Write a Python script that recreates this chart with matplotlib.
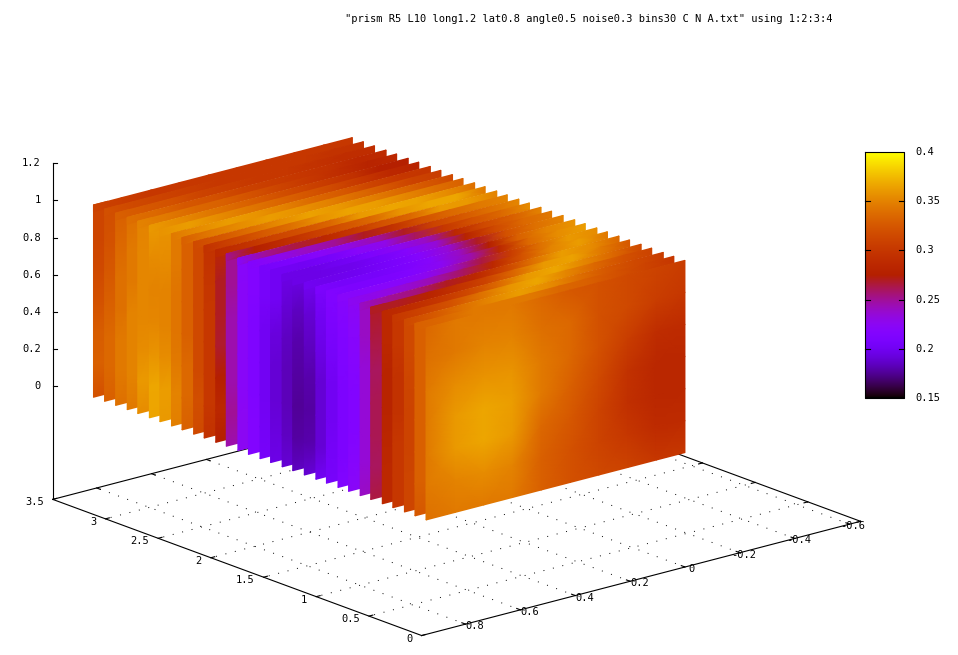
import numpy as np
import matplotlib
matplotlib.use('Agg')
import matplotlib.pyplot as plt
from matplotlib.colors import ListedColormap

plt.rcParams['font.family'] = 'DejaVu Sans Mono'
plt.rcParams['font.size'] = 7.45

title = '"prism R5 L10 long1.2 lat0.8 angle0.5 noise0.3 bins30 C N A.txt" using 1:2:3:4'

x_ticks = [0.8, 0.6, 0.4, 0.2, 0, -0.2, -0.4, -0.6]
x_labels = ['0.8', '0.6', '0.4', '0.2', '0', '-0.2', '-0.4', '-0.6']
y_ticks = [0, 0.5, 1, 1.5, 2, 2.5, 3, 3.5]
y_labels = ['0', '0.5', '1', '1.5', '2', '2.5', '3', '3.5']
z_ticks = [0, 0.2, 0.4, 0.6, 0.8, 1, 1.2]
z_labels = ['0', '0.2', '0.4', '0.6', '0.8', '1', '1.2']
cb_ticks = [0.15, 0.2, 0.25, 0.3, 0.35, 0.4]
cb_labels = ['0.15', '0.2', '0.25', '0.3', '0.35', '0.4']

# slices, back to front
y_slices = [3.27, 3.165, 3.06, 2.95, 2.85, 2.74, 2.64, 2.53, 2.43, 2.32,
            2.22, 2.11, 2.01, 1.90, 1.80, 1.69, 1.59, 1.48, 1.38, 1.27,
            1.16, 1.06, 0.95, 0.85, 0.74, 0.64, 0.53, 0.43, 0.32, 0.22]
y_front = 0.115
x_cols = [0.9, 0.795, 0.69, 0.585, 0.48, 0.375, 0.27, 0.165, 0.06, -0.044]
z_rows = [1.0, 0.828, 0.655, 0.483, 0.31, 0.138, -0.034]

# value along z (top to bottom) on the left edge of each slice
left_edge = [
    [.312, .312, .315, .32, .328, .33, .32],
    [.318, .32, .325, .33, .335, .335, .33],
    [.33, .335, .34, .34, .345, .345, .34],
    [.34, .345, .345, .35, .35, .35, .345],
    [.35, .352, .352, .352, .355, .36, .355],
    [.36, .355, .35, .352, .358, .366, .365],
    [.358, .355, .35, .35, .355, .362, .36],
    [.345, .345, .342, .342, .345, .35, .348],
    [.33, .33, .33, .33, .335, .335, .33],
    [.315, .315, .315, .315, .315, .318, .315],
    [.295, .298, .3, .3, .3, .3, .295],
    [.285, .27, .27, .268, .275, .285, .275],
    [.25, .25, .245, .245, .245, .25, .245],
    [.22, .222, .222, .222, .222, .225, .225],
    [.215, .215, .212, .212, .212, .215, .215],
    [.205, .205, .2, .2, .2, .202, .205],
    [.2, .2, .192, .19, .19, .192, .195],
    [.195, .19, .185, .183, .183, .185, .19],
    [.195, .185, .18, .178, .176, .178, .185],
    [.2, .19, .185, .18, .178, .18, .19],
    [.21, .2, .195, .19, .19, .19, .2],
    [.215, .21, .205, .2, .2, .203, .205],
    [.22, .215, .212, .21, .21, .21, .215],
    [.225, .22, .218, .215, .215, .218, .222],
    [.24, .24, .235, .235, .235, .235, .24],
    [.27, .265, .26, .262, .262, .26, .265],
    [.285, .285, .28, .28, .282, .285, .285],
    [.3, .3, .295, .295, .3, .3, .3],
    [.315, .315, .312, .31, .31, .312, .312],
    [.33, .33, .33, .33, .33, .33, .325],
]

# value along x on the top edge of each slice
top_edge = [
    [.31, .305, .30, .30, .30, .30, .30, .30, .30, .30],
    [.32, .315, .31, .305, .30, .30, .30, .30, .295, .295],
    [.33, .325, .32, .31, .305, .30, .30, .295, .29, .29],
    [.34, .335, .325, .32, .31, .305, .30, .295, .285, .288],
    [.35, .345, .335, .33, .32, .31, .30, .29, .28, .285],
    [.36, .355, .345, .335, .325, .315, .305, .295, .275, .275],
    [.358, .362, .355, .345, .335, .325, .315, .30, .285, .28],
    [.345, .355, .362, .358, .348, .335, .325, .31, .30, .298],
    [.33, .345, .355, .362, .358, .35, .338, .325, .31, .305],
    [.315, .325, .34, .355, .364, .36, .35, .338, .325, .315],
    [.295, .31, .325, .34, .358, .365, .362, .352, .34, .33],
    [.285, .295, .31, .32, .335, .36, .366, .364, .355, .34],
    [.25, .275, .29, .305, .32, .335, .358, .366, .366, .345],
    [.22, .25, .265, .285, .30, .32, .335, .36, .36, .35],
    [.215, .225, .24, .25, .27, .295, .32, .335, .345, .35],
    [.205, .21, .22, .23, .245, .27, .31, .325, .34, .352],
    [.2, .2, .205, .22, .23, .26, .30, .32, .335, .355],
    [.195, .195, .2, .21, .225, .24, .285, .315, .33, .35],
    [.195, .195, .197, .205, .218, .235, .28, .315, .335, .345],
    [.2, .197, .2, .207, .218, .235, .27, .32, .34, .35],
    [.21, .205, .205, .21, .22, .24, .275, .33, .35, .358],
    [.215, .21, .21, .215, .225, .245, .285, .335, .355, .362],
    [.22, .22, .22, .225, .24, .265, .305, .34, .36, .355],
    [.225, .23, .235, .245, .26, .285, .32, .35, .362, .345],
    [.24, .25, .255, .27, .285, .31, .34, .362, .355, .335],
    [.27, .27, .28, .295, .31, .335, .36, .364, .345, .325],
    [.285, .29, .30, .315, .335, .36, .366, .352, .335, .315],
    [.30, .31, .32, .34, .358, .366, .352, .335, .32, .31],
    [.315, .325, .34, .352, .362, .355, .34, .325, .315, .305],
    [.33, .335, .345, .345, .345, .335, .33, .32, .31, .30],
]

# front slice, rows top to bottom, columns left to right
front_face = [
    [.335, .345, .345, .345, .335, .325, .32, .315, .31, .305],
    [.34, .345, .35, .35, .34, .335, .32, .315, .305, .30],
    [.345, .355, .358, .358, .345, .335, .32, .305, .29, .288],
    [.345, .36, .366, .362, .345, .33, .315, .295, .283, .283],
    [.345, .36, .366, .36, .335, .325, .31, .293, .283, .283],
    [.345, .35, .355, .35, .33, .32, .31, .30, .288, .288],
    [.34, .345, .345, .345, .33, .32, .315, .31, .30, .30],
]

# pm3d default palette (rgbformulae 7,5,15)
t = np.linspace(0, 1, 256)
palette = ListedColormap(np.c_[np.sqrt(t), t ** 3, np.clip(np.sin(2 * np.pi * t), 0, 1)])
vmin, vmax = 0.15, 0.4


# view 3d -> image pixels
def proj(x, y, z):
    x, y, z = np.asarray(x, float), np.asarray(y, float), np.asarray(z, float)
    return 685 - 274.3 * x - 105.4 * y, 567 + 71.4 * x - 38.9 * y - 186 * (z + 0.608)


fig = plt.figure(figsize=(9.58, 6.55), dpi=100)
ax = fig.add_axes([0, 0, 1, 1])
ax.axis('off')

xlo, xhi, ylo, yhi, zlo, zhi = -0.64, 0.96, 0, 3.5, -0.608, 1.2
line_w = 0.8


def edge(x, y, z):
    px, py = proj(x, y, z)
    ax.plot(px, py, color='k', lw=line_w, zorder=1)


# floor grid
for v in x_ticks:
    px, py = proj([v, v], [ylo, yhi], [zlo, zlo])
    ax.plot(px, py, color='k', lw=0.7, ls=(0, (1, 9)), zorder=1)
for v in y_ticks[1:-1]:
    px, py = proj([xlo, xhi], [v, v], [zlo, zlo])
    ax.plot(px, py, color='k', lw=0.7, ls=(0, (1, 9)), zorder=1)

# floor border and z axis
edge([xhi, xhi], [ylo, yhi], [zlo, zlo])
edge([xhi, xlo], [ylo, ylo], [zlo, zlo])
edge([xhi, xlo], [yhi, yhi], [zlo, zlo])
edge([xlo, xlo], [ylo, yhi], [zlo, zlo])
edge([xhi, xhi], [yhi, yhi], [zlo, zhi])

# ticks and labels
for v, s in zip(x_ticks, x_labels):
    edge([v, v], [ylo, ylo + 0.035], [zlo, zlo])
    edge([v, v], [yhi, yhi - 0.035], [zlo, zlo])
    px, py = proj(v, ylo, zlo)
    off = -9 if s[0] == '-' else (3 if s == '0' else 0)
    ax.text(px + off, py + 2, s, ha='left', va='center')
for v, s in zip(y_ticks, y_labels):
    edge([xhi, xhi - 0.014], [v, v], [zlo, zlo])
    edge([xlo, xlo + 0.014], [v, v], [zlo, zlo])
    px, py = proj(xhi, v, zlo)
    ax.text(px - 9, py + 3, s, ha='right', va='center')
for v, s in zip(z_ticks, z_labels):
    px, py = proj(xhi, yhi, v)
    ax.plot([px, px + 4], [py, py], color='k', lw=line_w, zorder=1)
    ax.text(px - 12, py, s, ha='right', va='center')

# surface: every slice paints over the one behind it, only its left and top edges stay visible
strip_dx = 0.0525
band_dz = 0.036
order = 2
for i, y in enumerate(y_slices):
    gx = np.array([[x_cols[0], x_cols[0] - strip_dx]] * len(z_rows))
    gz = np.array([[v, v] for v in z_rows])
    px, py = proj(gx, y, gz)
    c = np.array([[v, v] for v in left_edge[i]])
    ax.pcolormesh(px, py, c, shading='gouraud', cmap=palette, vmin=vmin, vmax=vmax, zorder=order)
    gx = np.array([x_cols, x_cols])
    gz = np.array([[z_rows[0]] * len(x_cols), [z_rows[0] - band_dz] * len(x_cols)])
    px, py = proj(gx, y, gz)
    c = np.array([top_edge[i], top_edge[i]])
    ax.pcolormesh(px, py, c, shading='gouraud', cmap=palette, vmin=vmin, vmax=vmax, zorder=order)
    order += 1

gx, gz = np.meshgrid(x_cols, z_rows)
px, py = proj(gx, y_front, gz)
ax.pcolormesh(px, py, np.array(front_face), shading='gouraud', cmap=palette, vmin=vmin, vmax=vmax, zorder=order)

# colour box
cb_l, cb_r, cb_t, cb_b = 865, 904, 152, 398
ramp = np.linspace(vmax, vmin, 256).reshape(-1, 1)
ax.imshow(ramp, extent=(cb_l, cb_r, cb_b, cb_t), cmap=palette, vmin=vmin, vmax=vmax,
          aspect='auto', interpolation='bilinear', zorder=2)
ax.plot([cb_l, cb_r, cb_r, cb_l, cb_l], [cb_t, cb_t, cb_b, cb_b, cb_t], color='k', lw=line_w, zorder=3)
for v, s in zip(cb_ticks[1:-1], cb_labels[1:-1]):
    py = cb_b - (v - vmin) / (vmax - vmin) * (cb_b - cb_t)
    ax.plot([cb_l, cb_l + 5], [py, py], color='k', lw=line_w, zorder=3)
    ax.plot([cb_r - 5, cb_r], [py, py], color='k', lw=line_w, zorder=3)
for v, s in zip(cb_ticks, cb_labels):
    py = cb_b - (v - vmin) / (vmax - vmin) * (cb_b - cb_t)
    ax.text(915, py, s, ha='left', va='center')

ax.text(589, 19, title, ha='center', va='center')

ax.set_xlim(0, 958)
ax.set_ylim(655, 0)
fig.savefig('out.png', dpi=100)
